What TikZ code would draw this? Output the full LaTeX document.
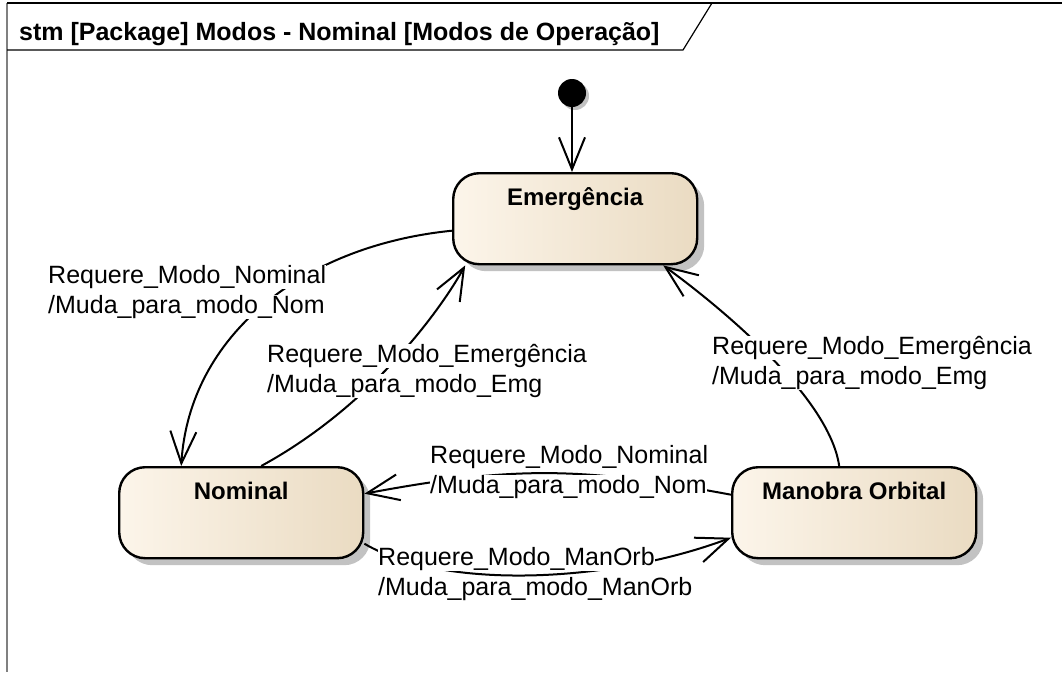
\documentclass[tikz,border=0pt]{standalone}
\usepackage{fontspec}
\setmainfont{Liberation Sans}
\usetikzlibrary{arrows.meta,shadows}
\definecolor{statelight}{HTML}{FCF5EA}
\definecolor{statedark}{HTML}{EADBC2}
\definecolor{shadowgray}{HTML}{C2C2C2}
\definecolor{framegray}{HTML}{808080}
\newcommand{\trigline}[1]{{\setlength{\fboxsep}{0pt}\colorbox{white}{\rule[-5pt]{0pt}{22pt}#1}}}

\begin{document}
\begin{tikzpicture}[
  x=1pt,
  y=-1pt,
  >={Straight Barb[length=32pt,width=26pt]},
  statebox/.style={draw, line width=2.4pt, rounded corners=26pt, minimum width=244pt, minimum height=91pt, inner ysep=0pt, text height=32pt, text depth=59pt, left color=statelight, right color=statedark, font=\fontsize{24}{29}\selectfont\bfseries, anchor=north west, drop shadow={shadow xshift=7pt, shadow yshift=-7pt, fill=shadowgray, opacity=1}},
  startdot/.style={circle, fill=black, minimum size=28pt, inner sep=0pt, drop shadow={shadow xshift=3pt, shadow yshift=-3pt, fill=shadowgray, opacity=1}},
  trigger/.style={align=left, inner sep=0pt, anchor=north west, font=\fontsize{25}{30}\selectfont},
  trans/.style={->, line width=2pt}
]
\useasboundingbox (0,0) rectangle (1062,672);

\draw[framegray, line width=1.5pt] (7,3) -- (7,672);
\draw[line width=1.5pt] (7,3) -- (1062,3);
\draw[line width=1.2pt] (7,50) -- (683,50) -- (712,3);
\node[anchor=base west, inner sep=0pt, font=\fontsize{25}{30}\selectfont\bfseries] (title) at (19,40) {stm [Package] Modos - Nominal [Modos de Operação]};

\node[statebox] (emg) at (452,172) {Emergência};
\node[statebox] (nom) at (118,466) {Nominal};
\node[statebox] (man) at (731,466) {Manobra Orbital};
\node[startdot] (init) at (572,93) {};

\draw[trans] (init) -- (init |- emg.north);
\draw[trans] ([yshift=-12pt]emg.west) .. controls +(-150,15) and +(8,-130) .. ([xshift=-60pt]nom.north);
\draw[trans] ([xshift=20pt]nom.north) .. controls +(110,-60) and +(-25,45) .. ([xshift=-110pt]emg.south);
\draw[trans] ([xshift=-15pt]man.north) .. controls +(-10,-70) and +(55,40) .. ([xshift=88pt]emg.south);
\draw[trans] ([yshift=18pt]man.west) .. controls +(-150,-28) and +(150,-28) .. ([yshift=19pt]nom.east);
\draw[trans] ([yshift=-31pt]nom.east) .. controls +(80,47) and +(-120,45) .. ([yshift=-25pt]man.west);

\node[trigger] (toNom) at (48,265) {\trigline{Requere\_Modo\_Nominal}\\\trigline{/Muda\_para\_modo\_Nom}};
\node[trigger] (toEmgA) at (267,344) {\trigline{Requere\_Modo\_Emergência}\\\trigline{/Muda\_para\_modo\_Emg}};
\node[trigger] (toEmgB) at (712,336) {\trigline{Requere\_Modo\_Emergência}\\\trigline{/Muda\_para\_modo\_Emg}};
\node[trigger] (backNom) at (430,445) {\trigline{Requere\_Modo\_Nominal}\\\trigline{/Muda\_para\_modo\_Nom}};
\node[trigger] (toMan) at (378,547) {\trigline{Requere\_Modo\_ManOrb}\\\trigline{/Muda\_para\_modo\_ManOrb}};
\end{tikzpicture}
\end{document}
